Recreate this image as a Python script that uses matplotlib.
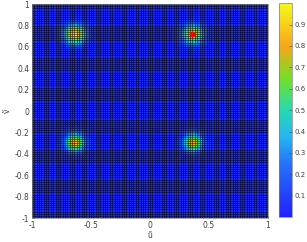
import numpy as np
import matplotlib
matplotlib.use("Agg")
import matplotlib.pyplot as plt
from matplotlib.colors import LinearSegmentedColormap

# Chart data
##############################################################################

# grid of normalised spatial frequencies
u_edges = np.linspace(-1, 1, 101)
v_edges = np.linspace(-1, 1, 101)

# the four spectral peaks
peak_u = [-0.64, 0.36, -0.64, 0.36]
peak_v = [0.72, 0.72, -0.29, -0.29]
peak_amp = [0.93, 0.80, 0.85, 0.80]
peak_width = [0.06, 0.06, 0.055, 0.055]
floor_level = 0.04

# true source position (red marker)
true_u = [0.36]
true_v = [0.72]

cbar_ticks = [0.1, 0.2, 0.3, 0.4, 0.5, 0.6, 0.7, 0.8, 0.9]

# Build the spectrum surface from the peak list
##############################################################################

uc = 0.5 * (u_edges[:-1] + u_edges[1:])
vc = 0.5 * (v_edges[:-1] + v_edges[1:])
U, V = np.meshgrid(uc, vc)
P = np.full(U.shape, floor_level)
for pu, pv, a, w in zip(peak_u, peak_v, peak_amp, peak_width):
    P += a * np.exp(-((U - pu) ** 2 + (V - pv) ** 2) / (2 * w ** 2))

# parula-like colormap as it appears in the picture
cmap = LinearSegmentedColormap.from_list(
    "parula_like",
    [(0.00, (0.13, 0.13, 1.00)),
     (0.25, (0.15, 0.45, 0.98)),
     (0.38, (0.15, 0.72, 0.95)),
     (0.50, (0.15, 0.85, 0.70)),
     (0.65, (0.45, 0.88, 0.15)),
     (0.80, (0.97, 0.65, 0.10)),
     (1.00, (0.97, 0.97, 0.10))])

# Plot
##############################################################################

fig = plt.figure(figsize=(3.07, 2.42), dpi=100)
ax = fig.add_axes([0.104, 0.099, 0.769, 0.884])
cax = fig.add_axes([0.909, 0.103, 0.042, 0.884])

mesh = ax.pcolormesh(u_edges, v_edges, P, cmap=cmap, vmin=0, vmax=1,
                     edgecolors="none")
# cell edges as thin dark lines (like pcolor's black edge colour)
ax.vlines(u_edges, -1, 1, color="k", linewidth=0.5, alpha=0.7)
ax.hlines(v_edges, -1, 1, color="k", linewidth=0.5, alpha=0.7)
ax.plot(true_u, true_v, "o", color="red", markersize=4, markeredgewidth=0)

ax.set_xlim(-1, 1)
ax.set_ylim(-1, 1)
ax.set_xticks([-1, -0.5, 0, 0.5, 1])
ax.set_xticklabels(["-1", "-0.5", "0", "0.5", "1"])
ax.set_yticks([-1, -0.8, -0.6, -0.4, -0.2, 0, 0.2, 0.4, 0.6, 0.8, 1])
ax.set_yticklabels(["-1", "-0.8", "-0.6", "-0.4", "-0.2", "0",
                    "0.2", "0.4", "0.6", "0.8", "1"])
ax.tick_params(labelsize=5.5, colors="#404040", length=2, width=0.4,
               direction="in", pad=2)
ax.set_xlabel("ũ", fontsize=5.5, color="#404040", labelpad=1)
ax.set_ylabel("ṽ", fontsize=5.5, color="#404040", labelpad=2, rotation=90)
for s in ax.spines.values():
    s.set_color("#808080")
    s.set_linewidth(0.5)

cb = fig.colorbar(mesh, cax=cax, ticks=cbar_ticks)
cb.ax.tick_params(labelsize=5, colors="#404040", length=2, width=0.4,
                  direction="in", pad=2)
cb.outline.set_edgecolor("#808080")
cb.outline.set_linewidth(0.5)

fig.savefig("out.png", dpi=100)
